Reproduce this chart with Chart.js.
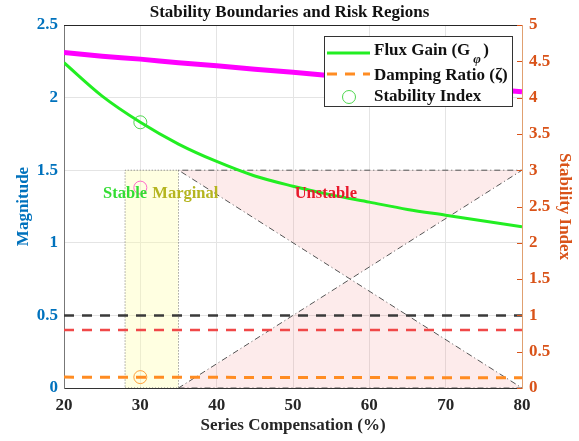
<!DOCTYPE html>
<html>
<head>
<meta charset="utf-8">
<script src="https://cdn.jsdelivr.net/npm/chart.js@4.4.1/dist/chart.umd.min.js"></script>
<style>
  html, body { margin: 0; padding: 0; background: #fff; }
  #wrap { width: 579px; height: 441px; }
</style>
</head>
<body>
<div id="wrap"><canvas id="grafico"></canvas></div>
<script>
// data
const compensation = [20, 25, 30, 35, 40, 45, 50, 55, 60, 65, 70, 75, 80];
const fluxGain = [2.24, 2.01, 1.83, 1.68, 1.56, 1.46, 1.39, 1.33, 1.28, 1.23, 1.19, 1.15, 1.11];
const upperBound = [4.62, 4.57, 4.53, 4.48, 4.44, 4.39, 4.35, 4.30, 4.26, 4.21, 4.17, 4.12, 4.08]; // right axis
const dampingX = [20, 80];
const dampingRatio = [0.075, 0.07];
const criticalLevel = 0.5;
const warningLevel = 0.4;
const indexX = [30, 30, 30];
const indexValues = [1.83, 1.38, 0.075];
const indexColors = ['rgba(60,210,60,0.9)', 'rgba(255,90,200,0.9)', 'rgba(255,150,40,0.9)'];
const marginalBand = [28, 35];
const unstableBand = [35, 80];
const regionTop = 1.5;
const regionLabels = ['Stable', 'Marginal', 'Unstable'];
const labelX = [28.0, 35.9, 54.3];
const labelY = 1.34;
const labelColors = ['#33dd33', '#b5b520', '#e8192c'];
const xTicks = [20, 30, 40, 50, 60, 70, 80];

const serif = 'Liberation Serif';
const blue = '#0072bd';
const orange = '#d95319';
const fmt = (v) => String(Math.round(v * 10) / 10);

const pts = (xs, ys) => xs.map((x, i) => ({ x: x, y: ys[i] }));

const marginalShape = pts(
  [marginalBand[0], marginalBand[1], marginalBand[1], marginalBand[0], marginalBand[0]],
  [0, 0, regionTop, regionTop, 0]
);
const unstableShape = pts(
  [unstableBand[0], unstableBand[1], unstableBand[0], unstableBand[1], unstableBand[0]],
  [0, 0, regionTop, regionTop, 0]
);

const extras = {
  id: 'extras',
  afterDatasetsDraw(chart) {
    const { ctx, chartArea, scales } = chart;
    ctx.save();
    // top frame line
    ctx.strokeStyle = '#262626';
    ctx.lineWidth = 1;
    ctx.beginPath();
    ctx.moveTo(chartArea.left, chartArea.top + 0.5);
    ctx.lineTo(chartArea.right, chartArea.top + 0.5);
    ctx.stroke();
    // right axis inner ticks
    ctx.strokeStyle = orange;
    for (let v = 0; v <= 5; v += 0.5) {
      const py = Math.round(scales.y2.getPixelForValue(v)) + 0.5;
      ctx.beginPath();
      ctx.moveTo(chartArea.right - 5, py);
      ctx.lineTo(chartArea.right, py);
      ctx.stroke();
    }
    // region labels
    ctx.font = 'bold 16.5px ' + serif;
    ctx.textAlign = 'center';
    ctx.textBaseline = 'middle';
    regionLabels.forEach((t, i) => {
      ctx.fillStyle = labelColors[i];
      ctx.fillText(t, scales.x.getPixelForValue(labelX[i]), scales.y.getPixelForValue(labelY));
    });
    // legend
    const bx = chartArea.right - 198, by = chartArea.top + 11, bw = 188, bh = 70;
    ctx.fillStyle = '#fff';
    ctx.fillRect(bx, by, bw, bh);
    ctx.strokeStyle = '#333';
    ctx.lineWidth = 1;
    ctx.strokeRect(bx + 0.5, by + 0.5, bw, bh);
    ctx.font = 'bold 17px ' + serif;
    ctx.textAlign = 'left';
    ctx.fillStyle = '#111';
    const rows = [by + 15, by + 40, by + 61];
    ctx.lineWidth = 3;
    ctx.strokeStyle = '#22ee22';
    ctx.beginPath(); ctx.moveTo(bx + 3, rows[0] + 2); ctx.lineTo(bx + 46, rows[0] + 2); ctx.stroke();
    ctx.strokeStyle = '#ff8c22';
    ctx.setLineDash([10, 8]);
    ctx.beginPath(); ctx.moveTo(bx + 3, rows[1] - 2); ctx.lineTo(bx + 46, rows[1] - 2); ctx.stroke();
    ctx.setLineDash([]);
    ctx.lineWidth = 1;
    ctx.strokeStyle = indexColors[0];
    ctx.beginPath(); ctx.arc(bx + 25, rows[2], 6.5, 0, Math.PI * 2); ctx.stroke();
    ctx.fillText('Flux Gain (G', bx + 50, rows[0]);
    let w = ctx.measureText('Flux Gain (G').width;
    ctx.font = 'italic bold 13px ' + serif;
    ctx.fillText('\u03c6', bx + 50 + w + 3, rows[0] + 9);
    ctx.font = 'bold 17px ' + serif;
    ctx.fillText(')', bx + 50 + w + 13, rows[0]);
    ctx.fillText('Damping Ratio (\u03b6)', bx + 50, rows[1]);
    ctx.fillText('Stability Index', bx + 50, rows[2]);
    ctx.restore();
  }
};

const config = {
  type: 'line',
  data: {
    datasets: [
      {
        label: 'Marginal', data: marginalShape, yAxisID: 'y',
        borderColor: '#777', borderWidth: 1, borderDash: [1, 2],
        backgroundColor: 'rgba(255,255,170,0.35)', fill: 'shape',
        pointRadius: 0, tension: 0, order: 10
      },
      {
        label: 'Unstable', data: unstableShape, yAxisID: 'y',
        borderColor: '#555', borderWidth: 1, borderDash: [6, 3, 1, 3],
        backgroundColor: 'rgba(240,120,120,0.15)', fill: 'shape',
        pointRadius: 0, tension: 0, order: 9
      },
      {
        label: 'Critical', data: pts(dampingX, [criticalLevel, criticalLevel]), yAxisID: 'y',
        borderColor: '#3a3a3a', borderWidth: 2.5, borderDash: [10, 8],
        pointRadius: 0, fill: false, order: 5
      },
      {
        label: 'Warning', data: pts(dampingX, [warningLevel, warningLevel]), yAxisID: 'y',
        borderColor: '#f04848', borderWidth: 2.5, borderDash: [10, 8],
        pointRadius: 0, fill: false, order: 5
      },
      {
        label: 'Damping Ratio', data: pts(dampingX, dampingRatio), yAxisID: 'y',
        borderColor: '#ff8c22', borderWidth: 3, borderDash: [10, 8],
        pointRadius: 0, fill: false, order: 4
      },
      {
        label: 'Upper', data: pts(compensation, upperBound), yAxisID: 'y2',
        borderColor: '#ff00ff', borderWidth: 5, pointRadius: 0,
        cubicInterpolationMode: 'monotone', fill: false, order: 3
      },
      {
        label: 'Flux Gain', data: pts(compensation, fluxGain), yAxisID: 'y',
        borderColor: '#22ee22', borderWidth: 3, pointRadius: 0,
        cubicInterpolationMode: 'monotone', fill: false, order: 2
      },
      {
        label: 'Stability Index', data: pts(indexX, indexValues), yAxisID: 'y',
        showLine: false, pointStyle: 'circle', pointRadius: 6.5,
        pointBorderWidth: 1, pointBorderColor: indexColors,
        pointBackgroundColor: 'rgba(0,0,0,0)', order: 1
      }
    ]
  },
  options: {
    responsive: true,
    maintainAspectRatio: false,
    animation: false,
    layout: { padding: 0 },
    plugins: {
      legend: { display: false },
      tooltip: { enabled: false },
      title: {
        display: true,
        text: 'Stability Boundaries and Risk Regions',
        color: '#111',
        font: { family: serif, size: 17, weight: 'bold' },
        padding: { top: 2, bottom: 2.6 }
      }
    },
    scales: {
      x: {
        type: 'linear', min: 20, max: 80,
        afterBuildTicks: (s) => { s.ticks = xTicks.map(v => ({ value: v })); },
        afterFit: (s) => { s.height = 53; },
        grid: { color: '#e4e4e4', drawTicks: false },
        border: { color: '#333' },
        ticks: { color: '#262626', padding: 7, font: { family: serif, size: 17, weight: 'bold' } },
        title: {
          display: true, text: 'Series Compensation (%)', color: '#262626',
          font: { family: serif, size: 17, weight: 'bold' }, padding: { top: 0, bottom: 5 }
        }
      },
      y: {
        position: 'left', min: 0, max: 2.5,
        afterFit: (s) => { s.width = 64; },
        grid: { color: '#e4e4e4', drawTicks: false },
        border: { color: '#777' },
        ticks: { stepSize: 0.5, color: blue, padding: 6, callback: fmt, font: { family: serif, size: 17, weight: 'bold' } },
        title: {
          display: true, text: 'Magnitude', color: blue,
          font: { family: serif, size: 17, weight: 'bold' }, padding: { top: 13, bottom: 0 }
        }
      },
      y2: {
        position: 'right', min: 0, max: 5,
        afterFit: (s) => { s.width = 57; },
        grid: { drawOnChartArea: false, drawTicks: false },
        border: { color: '#e0a070' },
        ticks: { stepSize: 0.5, color: orange, padding: 7, callback: fmt, font: { family: serif, size: 17, weight: 'bold' } },
        title: {
          display: true, text: 'Stability Index', color: orange,
          font: { family: serif, size: 17, weight: 'bold' }, padding: { top: 4, bottom: 0 }
        }
      }
    }
  },
  plugins: [extras]
};

const myChart = new Chart(document.getElementById('grafico'), config);
</script>
</body>
</html>
